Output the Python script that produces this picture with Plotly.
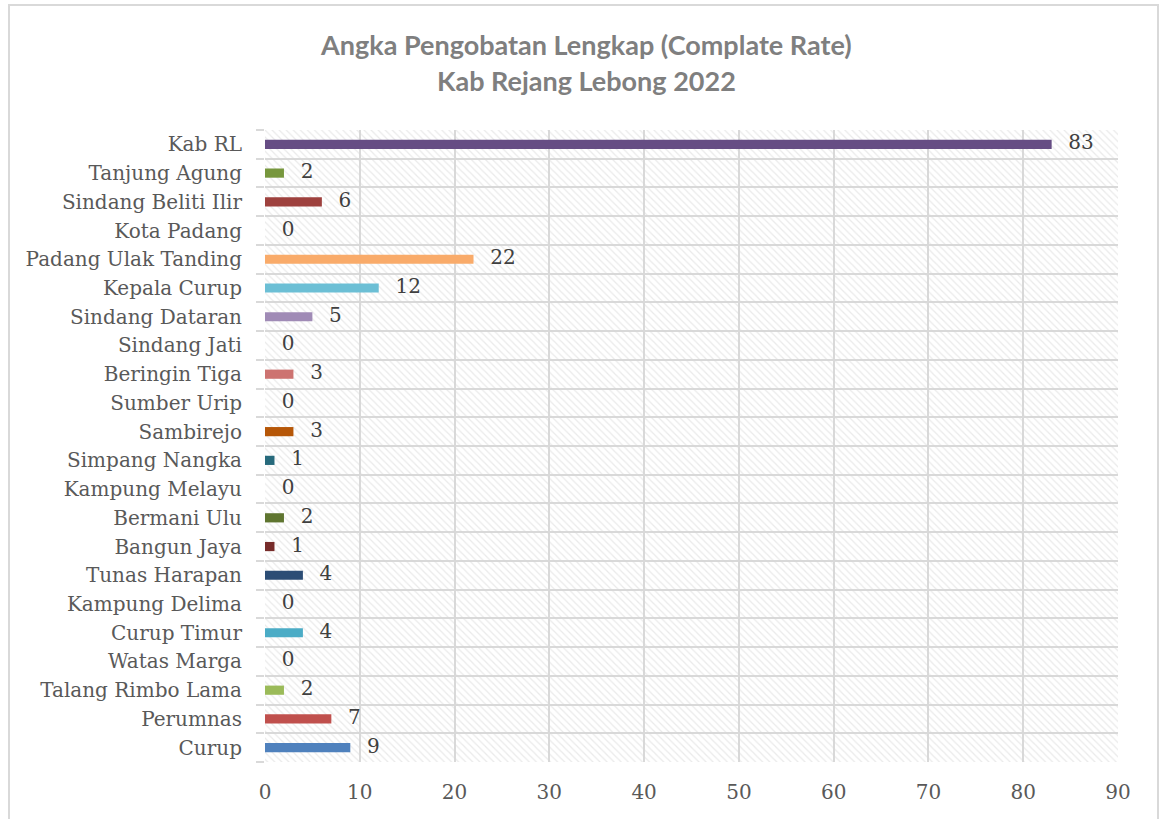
import plotly.graph_objects as go

categories = ["Curup", "Perumnas", "Talang Rimbo Lama", "Watas Marga", "Curup Timur",
              "Kampung Delima", "Tunas Harapan", "Bangun Jaya", "Bermani Ulu", "Kampung Melayu",
              "Simpang Nangka", "Sambirejo", "Sumber Urip", "Beringin Tiga", "Sindang Jati",
              "Sindang Dataran", "Kepala Curup", "Padang Ulak Tanding", "Kota Padang",
              "Sindang Beliti Ilir", "Tanjung Agung", "Kab RL"]
values = [9, 7, 2, 0, 4, 0, 4, 1, 2, 0, 1, 3, 0, 3, 0, 5, 12, 22, 0, 6, 2, 83]
colors = ["#4F81BD", "#C0504D", "#9BBB59", "#8064A2", "#4BACC6", "#F79646", "#2C4D75",
          "#772C2A", "#5F7530", "#4D3B62", "#276A7C", "#B65708", "#729ACA", "#CD7371",
          "#AFC97A", "#A08BB6", "#6CBFD5", "#F9AB6A", "#3A679C", "#9E413E", "#77973D",
          "#664D84"]
x_ticks = [0, 10, 20, 30, 40, 50, 60, 70, 80, 90]
x_max = 90
title_lines = ["Angka Pengobatan Lengkap (Complate Rate)", "Kab Rejang Lebong 2022"]

W, H = 1162, 819
L, T = 265, 130
R = W - 1118
B = H - 762
pw, ph = W - L - R, H - T - B


def px_x(p):  # page pixel x -> paper
    return (p - L) / pw


def px_y(p):  # page pixel y -> paper
    return (H - B - p) / ph


ypos = list(range(len(categories)))
serif = "DejaVu Serif"

fig = go.Figure()
# hatched plot-area background
fig.add_trace(go.Bar(
    y=ypos, x=[x_max] * len(ypos), orientation="h", width=1,
    marker=dict(color="rgba(0,0,0,0)", line=dict(width=0),
                pattern=dict(shape="\\", fgcolor="#D6D6D6", bgcolor="rgba(0,0,0,0)",
                             size=5, solidity=0.25)),
    hoverinfo="skip", showlegend=False))
fig.add_trace(go.Bar(
    y=ypos, x=values, orientation="h", width=0.32,
    marker=dict(color=colors, line=dict(width=0)),
    showlegend=False))
fig.add_trace(go.Scatter(
    y=ypos, x=values, mode="text",
    text=["\u00a0\u00a0\u2009" + str(v) for v in values],
    textposition="middle right",
    textfont=dict(family=serif, size=20, color="#404040"),
    showlegend=False, cliponaxis=False, hoverinfo="skip"))

annotations = []
for line, ypix in zip(title_lines, [45, 80]):
    annotations.append(dict(text=line, xref="paper", yref="paper",
                            x=px_x(586), y=px_y(ypix), xanchor="center", yanchor="middle",
                            showarrow=False,
                            font=dict(family="Lato", size=27, color="#7F7F7F", weight="bold")))

fig.update_layout(
    width=W, height=H,
    margin=dict(l=L, r=R, t=T, b=B, autoexpand=False),
    paper_bgcolor="white", plot_bgcolor="white",
    barmode="overlay",
    annotations=annotations,
    xaxis=dict(range=[0, x_max], tickvals=x_ticks, showgrid=True, gridcolor="#D9D9D9",
               gridwidth=2, zeroline=False, showline=False, ticks="",
               ticklabelstandoff=16,
               tickfont=dict(family=serif, size=20, color="#595959")),
    yaxis=dict(range=[-0.5, len(categories) - 0.5], tickvals=ypos, ticktext=categories,
               showgrid=False, zeroline=False, showline=False, ticks="",
               ticklabelstandoff=22,
               tickfont=dict(family=serif, size=20, color="#595959"),
               minor=dict(tickvals=[i - 0.5 for i in range(len(categories) + 1)],
                          showgrid=True, gridcolor="#D9D9D9", gridwidth=2,
                          ticks="outside", ticklen=8, tickcolor="#D9D9D9", tickwidth=2)),
    shapes=[dict(type="rect", xref="paper", yref="paper",
                 x0=px_x(9), x1=px_x(1158), y0=px_y(830), y1=px_y(5),
                 line=dict(color="#D9D9D9", width=2), fillcolor="rgba(0,0,0,0)", layer="below")],
)

fig.write_html("out.html", config={"displayModeBar": False},
               post_script="document.body.style.margin='0';document.body.style.overflow='hidden';")
